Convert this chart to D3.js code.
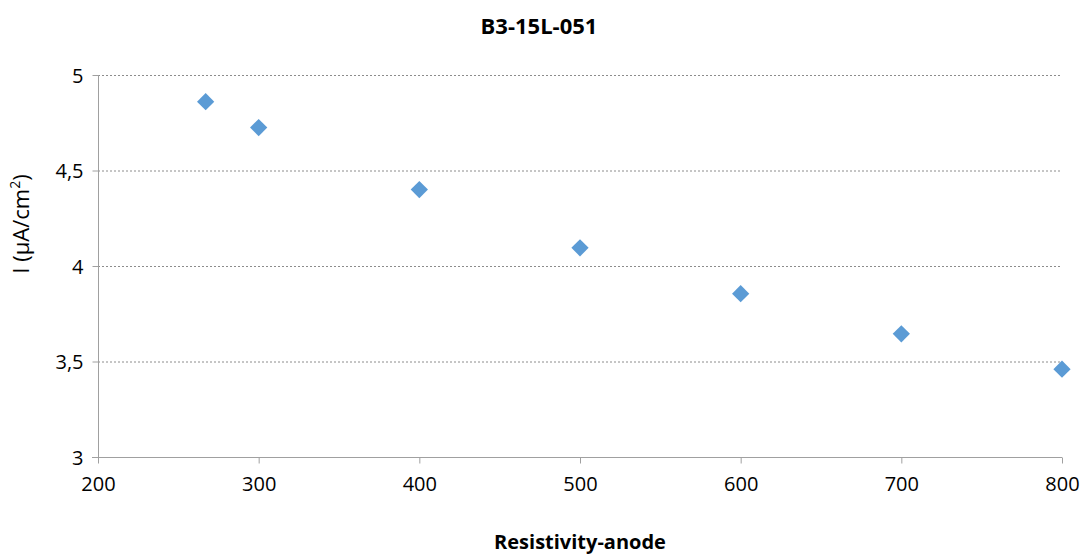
<!DOCTYPE html>
<html><head><meta charset="utf-8">
<script src="https://cdn.jsdelivr.net/npm/d3@7"></script>
<style>body{margin:0;background:#fff}svg{display:block}text{font-family:"Open Sans","Liberation Sans",sans-serif;fill:#000}</style>
</head><body>
<svg id="c" width="1091" height="559"></svg>
<script>
const xValues = [267, 300, 400, 500, 600, 700, 800];
const yValues = [4.86, 4.725, 4.40, 4.095, 3.855, 3.645, 3.46];
const xTicks = [200, 300, 400, 500, 600, 700, 800];
const yTicks = [3, 3.5, 4, 4.5, 5];
const title = "B3-15L-051";
const xLabel = "Resistivity-anode";

const svg = d3.select("#c");
const L = 98, R = 1062, T = 75, B = 457;
const x = d3.scaleLinear().domain([200, 800]).range([L, R]);
const y = d3.scaleLinear().domain([3, 5]).range([B, T]);
const fmt = d => String(d).replace(".", ",");

svg.append("g").selectAll("line").data(yTicks.filter(d => d !== 3)).join("line")
  .attr("x1", L).attr("x2", R).attr("y1", d => y(d)+0.5).attr("y2", d => y(d)+0.5)
  .attr("stroke", "#8c8c8c").attr("stroke-dasharray", "2,2").attr("stroke-width", 1);

const gy = svg.append("g").attr("transform", `translate(${L+0.5},0)`)
  .call(d3.axisLeft(y).tickValues(yTicks).tickFormat(fmt).tickSize(6).tickPadding(9));
const gx = svg.append("g").attr("transform", `translate(0,${B+0.5})`)
  .call(d3.axisBottom(x).tickValues(xTicks).tickSize(6).tickPadding(13));
[gy, gx].forEach(g => {
  g.attr("font-size", null).attr("font-family", null);
  g.selectAll("path,line").attr("stroke", "#a0a0a0");
  g.selectAll("text").style("font-size", "20px").attr("fill", "#000");
  g.select(".domain").remove();
});
gy.selectAll("text").attr("dy", "0.35em");
svg.append("line").attr("x1", L+0.5).attr("x2", L+0.5).attr("y1", T).attr("y2", B).attr("stroke", "#a0a0a0");
svg.append("line").attr("x1", L-6).attr("x2", R).attr("y1", B+0.5).attr("y2", B+0.5).attr("stroke", "#a0a0a0");

const sym = d3.symbol().type(d3.symbolDiamond2).size(190);
svg.append("g").selectAll("path").data(xValues.map((v,i)=>[v,yValues[i]])).join("path")
  .attr("d", sym).attr("transform", d => `translate(${x(d[0])},${y(d[1])})`)
  .attr("fill", "#5b9bd5");

svg.append("text").attr("x", 539).attr("y", 34).attr("text-anchor", "middle")
  .style("font-size", "22px").attr("font-weight", "bold").text(title);
svg.append("text").attr("x", 580).attr("y", 549).attr("text-anchor", "middle")
  .style("font-size", "20px").attr("font-weight", "bold").text(xLabel);
const yl = svg.append("text").attr("transform", "translate(29,224) rotate(-90)").attr("text-anchor", "middle")
  .style("font-size", "22px");
yl.append("tspan").text("I (µA/cm");
yl.append("tspan").style("font-size", "14px").attr("dy", -9).text("2");
yl.append("tspan").attr("dy", 9).text(")");
</script>
</body></html>
